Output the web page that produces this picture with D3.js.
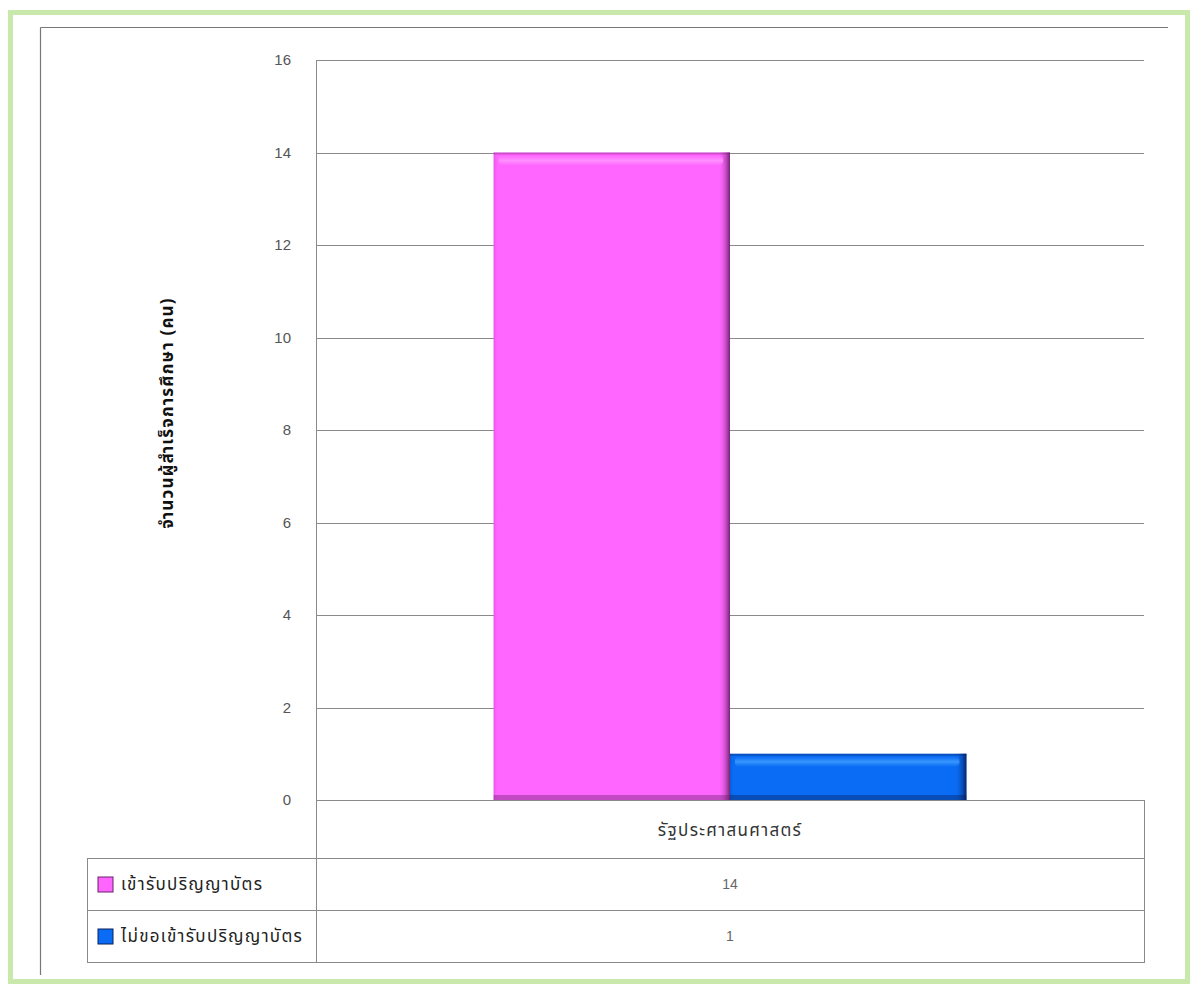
<!DOCTYPE html>
<html>
<head>
<meta charset="utf-8">
<script src="https://cdn.jsdelivr.net/npm/d3@7/dist/d3.min.js"></script>
<style>
  html, body { margin: 0; padding: 0; background: #ffffff; }
  svg { display: block; font-family: "Noto Sans Thai", Tahoma, "DejaVu Sans", sans-serif; }
</style>
</head>
<body>
<svg id="chart" width="1194" height="985"></svg>
<script>
const categories = ["รัฐประศาสนศาสตร์"];
const seriesNames = ["เข้ารับปริญญาบัตร", "ไม่ขอเข้ารับปริญญาบัตร"];
const seriesValues = [[14], [1]];
const yTicks = [0, 2, 4, 6, 8, 10, 12, 14, 16];
const yTitle = "จำนวนผู้สำเร็จการศึกษา (คน)";
const seriesColors = ["#ff66ff", "#0a6cf5"];
const seriesDark = ["#6a1f6a", "#08205c"];
const seriesLight = ["#ff94ff", "#3d9bff"];

const svg = d3.select("#chart");

// outer green frame
svg.append("rect").attr("x", 10.5).attr("y", 12.5).attr("width", 1177).attr("height", 969)
  .attr("fill", "none").attr("stroke", "#c9e8ab").attr("stroke-width", 5);

// inner chart border (top & left)
svg.append("line").attr("x1", 40.5).attr("x2", 1168).attr("y1", 27.5).attr("y2", 27.5).attr("stroke", "#777").attr("stroke-width", 1.2);
svg.append("line").attr("x1", 40.5).attr("x2", 40.5).attr("y1", 27.5).attr("y2", 975).attr("stroke", "#777").attr("stroke-width", 1.2);

const plot = { left: 316, right: 1144, top: 60, bottom: 800 };

const y = d3.scaleLinear().domain([0, 16]).range([plot.bottom, plot.top]);
const x = d3.scaleBand().domain(categories).range([plot.left, plot.right]).paddingInner(0).paddingOuter(0);
const groupFrac = 0.571;
const xs = d3.scaleBand().domain(seriesNames)
  .range([0, x.bandwidth() * groupFrac]).padding(0);

// gridlines
svg.append("g").selectAll("line").data(yTicks).join("line")
  .attr("x1", plot.left).attr("x2", plot.right)
  .attr("y1", d => Math.round(y(d)) + 0.5).attr("y2", d => Math.round(y(d)) + 0.5)
  .attr("stroke", "#8a8a8a").attr("stroke-width", 1);

// plot left border
svg.append("line").attr("x1", plot.left + 0.5).attr("x2", plot.left + 0.5)
  .attr("y1", plot.top).attr("y2", plot.bottom).attr("stroke", "#8a8a8a");

// y axis labels
const yAxis = d3.axisLeft(y).tickValues(yTicks).tickSize(0).tickPadding(0);
const ga = svg.append("g").attr("transform", `translate(${plot.left - 25},0)`).call(yAxis);
ga.select(".domain").remove();
ga.selectAll("text").attr("font-size", 15).attr("fill", "#555")
  .attr("font-family", "'Liberation Sans', Arial, sans-serif");

// y title
svg.append("text")
  .attr("transform", `translate(173,413) rotate(-90)`)
  .attr("text-anchor", "middle").attr("font-size", 17).attr("font-weight", "bold").attr("fill", "#111")
  .attr("letter-spacing", 1.2)
  .text(yTitle);

// defs for bar shading
const defs = svg.append("defs");
seriesNames.forEach((s, i) => {
  const gh = defs.append("linearGradient").attr("id", "gh" + i).attr("x1", 0).attr("x2", 1).attr("y1", 0).attr("y2", 0);
  gh.append("stop").attr("offset", 0).attr("stop-color", seriesDark[i]).attr("stop-opacity", 0.2);
  gh.append("stop").attr("offset", 0.02).attr("stop-color", seriesColors[i]).attr("stop-opacity", 0);
  gh.append("stop").attr("offset", 0.95).attr("stop-color", seriesColors[i]).attr("stop-opacity", 0);
  gh.append("stop").attr("offset", 1).attr("stop-color", seriesDark[i]).attr("stop-opacity", 0.95);
  const gs = defs.append("linearGradient").attr("id", "gs" + i).attr("x1", 0).attr("x2", 0).attr("y1", 0).attr("y2", 1);
  gs.append("stop").attr("offset", 0).attr("stop-color", seriesLight[i]).attr("stop-opacity", 0);
  gs.append("stop").attr("offset", 0.5).attr("stop-color", seriesLight[i]).attr("stop-opacity", 0.9);
  gs.append("stop").attr("offset", 1).attr("stop-color", seriesLight[i]).attr("stop-opacity", 0);
});

// bars
const g = svg.append("g");
seriesNames.forEach((s, i) => {
  categories.forEach((c, ci) => {
    const v = seriesValues[i][ci];
    const bx = x(c) + (x.bandwidth() - xs.range()[1]) / 2 + xs(s);
    const bw = xs.bandwidth();
    const by = y(v), bh = y(0) - y(v);
    const bar = g.append("g");
    bar.append("rect").attr("x", bx).attr("y", by).attr("width", bw).attr("height", bh).attr("fill", seriesColors[i]);
    bar.append("rect").attr("x", bx).attr("y", by).attr("width", bw).attr("height", bh).attr("fill", `url(#gh${i})`);
    // top highlight
    bar.append("rect").attr("x", bx + 5).attr("y", by + 3).attr("width", bw - 12).attr("height", 10)
      .attr("fill", `url(#gs${i})`).attr("rx", 4);
    // top edge
    bar.append("rect").attr("x", bx).attr("y", by).attr("width", bw).attr("height", 2)
      .attr("fill", seriesDark[i]).attr("opacity", 0.35);
    // bottom shadow
    bar.append("rect").attr("x", bx).attr("y", y(0) - 5).attr("width", bw).attr("height", 5)
      .attr("fill", seriesDark[i]).attr("opacity", 0.4);
  });
});

// data table
const rowH = 52;
const tTop = plot.bottom, catBottom = 858;
const legendLeft = 87;
const tableStroke = "#8a8a8a";
svg.append("line").attr("x1", plot.left + 0.5).attr("x2", plot.left + 0.5).attr("y1", tTop).attr("y2", catBottom + 2 * rowH).attr("stroke", tableStroke);
svg.append("line").attr("x1", plot.right + 0.5).attr("x2", plot.right + 0.5).attr("y1", tTop).attr("y2", catBottom + 2 * rowH).attr("stroke", tableStroke);
svg.append("line").attr("x1", legendLeft + 0.5).attr("x2", legendLeft + 0.5).attr("y1", catBottom).attr("y2", catBottom + 2 * rowH).attr("stroke", tableStroke);
[0, 1, 2].forEach(k => {
  svg.append("line").attr("x1", legendLeft).attr("x2", plot.right + 1)
    .attr("y1", catBottom + k * rowH + 0.5).attr("y2", catBottom + k * rowH + 0.5).attr("stroke", tableStroke);
});

// category label
svg.selectAll(".cat").data(categories).join("text").attr("class", "cat")
  .attr("x", d => x(d) + x.bandwidth() / 2).attr("y", (tTop + catBottom) / 2 + 7)
  .attr("text-anchor", "middle").attr("font-size", 17).attr("letter-spacing", 1.3)
  .attr("fill", "#333").text(d => d);

// legend rows and values
seriesNames.forEach((s, i) => {
  const cy = catBottom + i * rowH + rowH / 2;
  svg.append("rect").attr("x", 98).attr("y", cy - 7).attr("width", 15).attr("height", 15)
    .attr("fill", seriesColors[i]).attr("stroke", seriesDark[i]).attr("stroke-width", 1);
  svg.append("text").attr("x", 121).attr("y", cy + 6).attr("font-size", 17).attr("letter-spacing", 1.3)
    .attr("fill", "#222").text(s);
  categories.forEach((c, ci) => {
    svg.append("text").attr("x", x(c) + x.bandwidth() / 2).attr("y", cy + 5)
      .attr("text-anchor", "middle").attr("font-size", 14).attr("fill", "#666")
      .attr("font-family", "'Liberation Sans', Arial, sans-serif")
      .text(seriesValues[i][ci]);
  });
});
</script>
</body>
</html>
